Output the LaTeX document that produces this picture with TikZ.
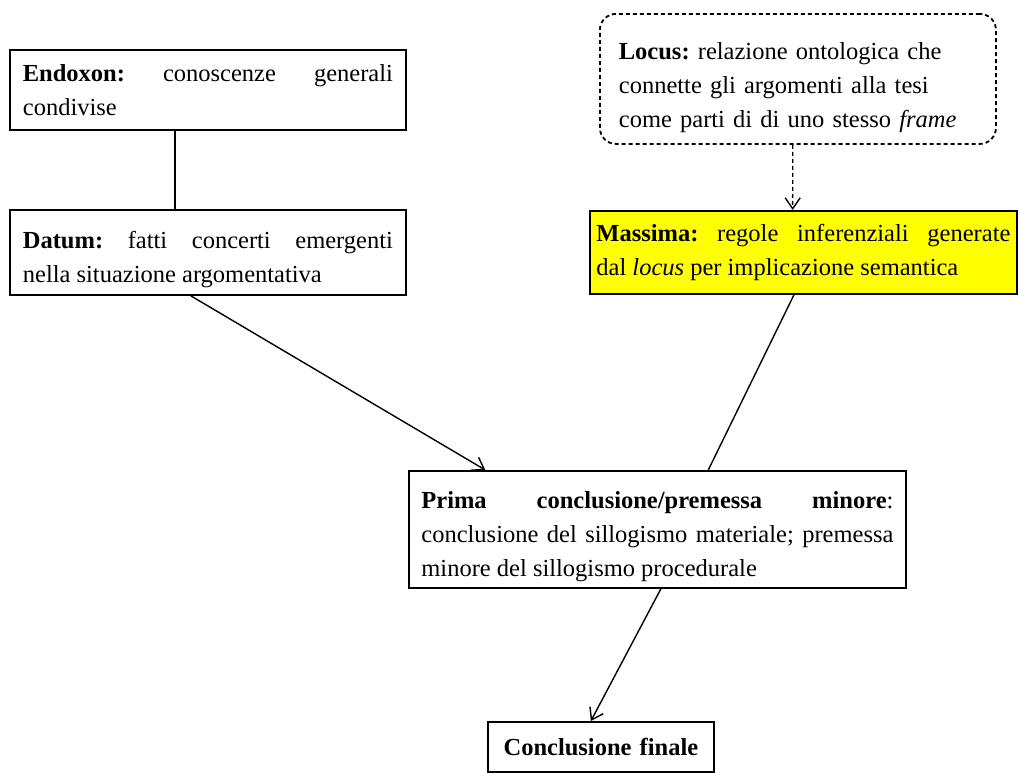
\documentclass[tikz,border=0pt]{standalone}
\usepackage{fontspec}
\setmainfont{Liberation Serif}
\usetikzlibrary{arrows.meta,calc}
\definecolor{hlyellow}{RGB}{255,255,0}
% tall strut on a first line, to lower a text block inside its box
\newcommand{\lowerby}[1]{\rule{0pt}{\dimexpr 22pt+2\dimexpr #1\relax\relax}}
\begin{document}
\frenchspacing
\begin{tikzpicture}[x=1pt,y=-1pt,
  box/.style={draw=black,line width=1.8pt,rectangle,anchor=north west,inner ysep=2pt,
    align=justify,font=\fontsize{24.5}{34}\selectfont},
  conn/.style={line width=1.4pt},
  arr/.style={conn,-{Straight Barb[length=11pt,width=15pt,line width=1.4pt]}}
]
\useasboundingbox (0,0) rectangle (1018,772);
\tolerance=10000 \hbadness=10000

% premises on the left
\node[box,text width=370pt,inner xsep=13pt,minimum height=80pt] (endoxon) at (9,49)
  {\textbf{Endoxon:} conoscenze generali\linebreak condivise};
\node[box,text width=370pt,inner xsep=13pt,minimum height=85pt] (datum) at (9,209)
  {\lowerby{5pt}\textbf{Datum:} fatti concerti emergenti\linebreak nella situazione argomentativa};

% locus and maxim on the right
\node[box,dash pattern=on 4pt off 3pt,rounded corners=16pt,align=left,
  text width=358pt,inner xsep=19pt,minimum height=130pt] (locus) at (599,13)
  {\lowerby{6pt}\textbf{Locus:} relazione ontologica che\\connette gli argomenti alla tesi\\come parti di di uno stesso \textit{frame}};
\node[box,fill=hlyellow,text width=414pt,inner xsep=6.5pt,minimum height=83pt] (massima) at (589,210)
  {\leftskip=6pt \textbf{Massima:} regole inferenziali generate\linebreak dal \textit{locus} per implicazione semantica};

% conclusions
\node[box,text width=472pt,inner xsep=12.5pt,minimum height=117pt] (prima) at (408,470)
  {\lowerby{5pt}\textbf{Prima conclusione/premessa minore}:\linebreak conclusione del sillogismo materiale; premessa\linebreak minore del sillogismo procedurale};
\node[box,align=center,text width=200pt,inner xsep=13pt,minimum height=50pt] (finale) at (487,721)
  {\textbf{Conclusione finale}};

% connectors
\draw[conn] ($(endoxon.south west)!0.417!(endoxon.south east)$) -- ($(datum.north west)!0.417!(datum.north east)$);
\draw[arr] ($(datum.south west)!0.457!(datum.south east)$) -- ($(prima.north west)!0.155!(prima.north east)$);
\draw[arr,dash pattern=on 4pt off 3pt] ($(locus.south west)!0.487!(locus.south east)$) -- ($(massima.north west)!0.475!(massima.north east)$);
\draw[conn] ($(massima.south west)!0.478!(massima.south east)$) -- ($(prima.north west)!0.602!(prima.north east)$);
\draw[arr] ($(prima.south west)!0.507!(prima.south east)$) -- ($(finale.north west)!0.456!(finale.north east)$);
\end{tikzpicture}
\end{document}
